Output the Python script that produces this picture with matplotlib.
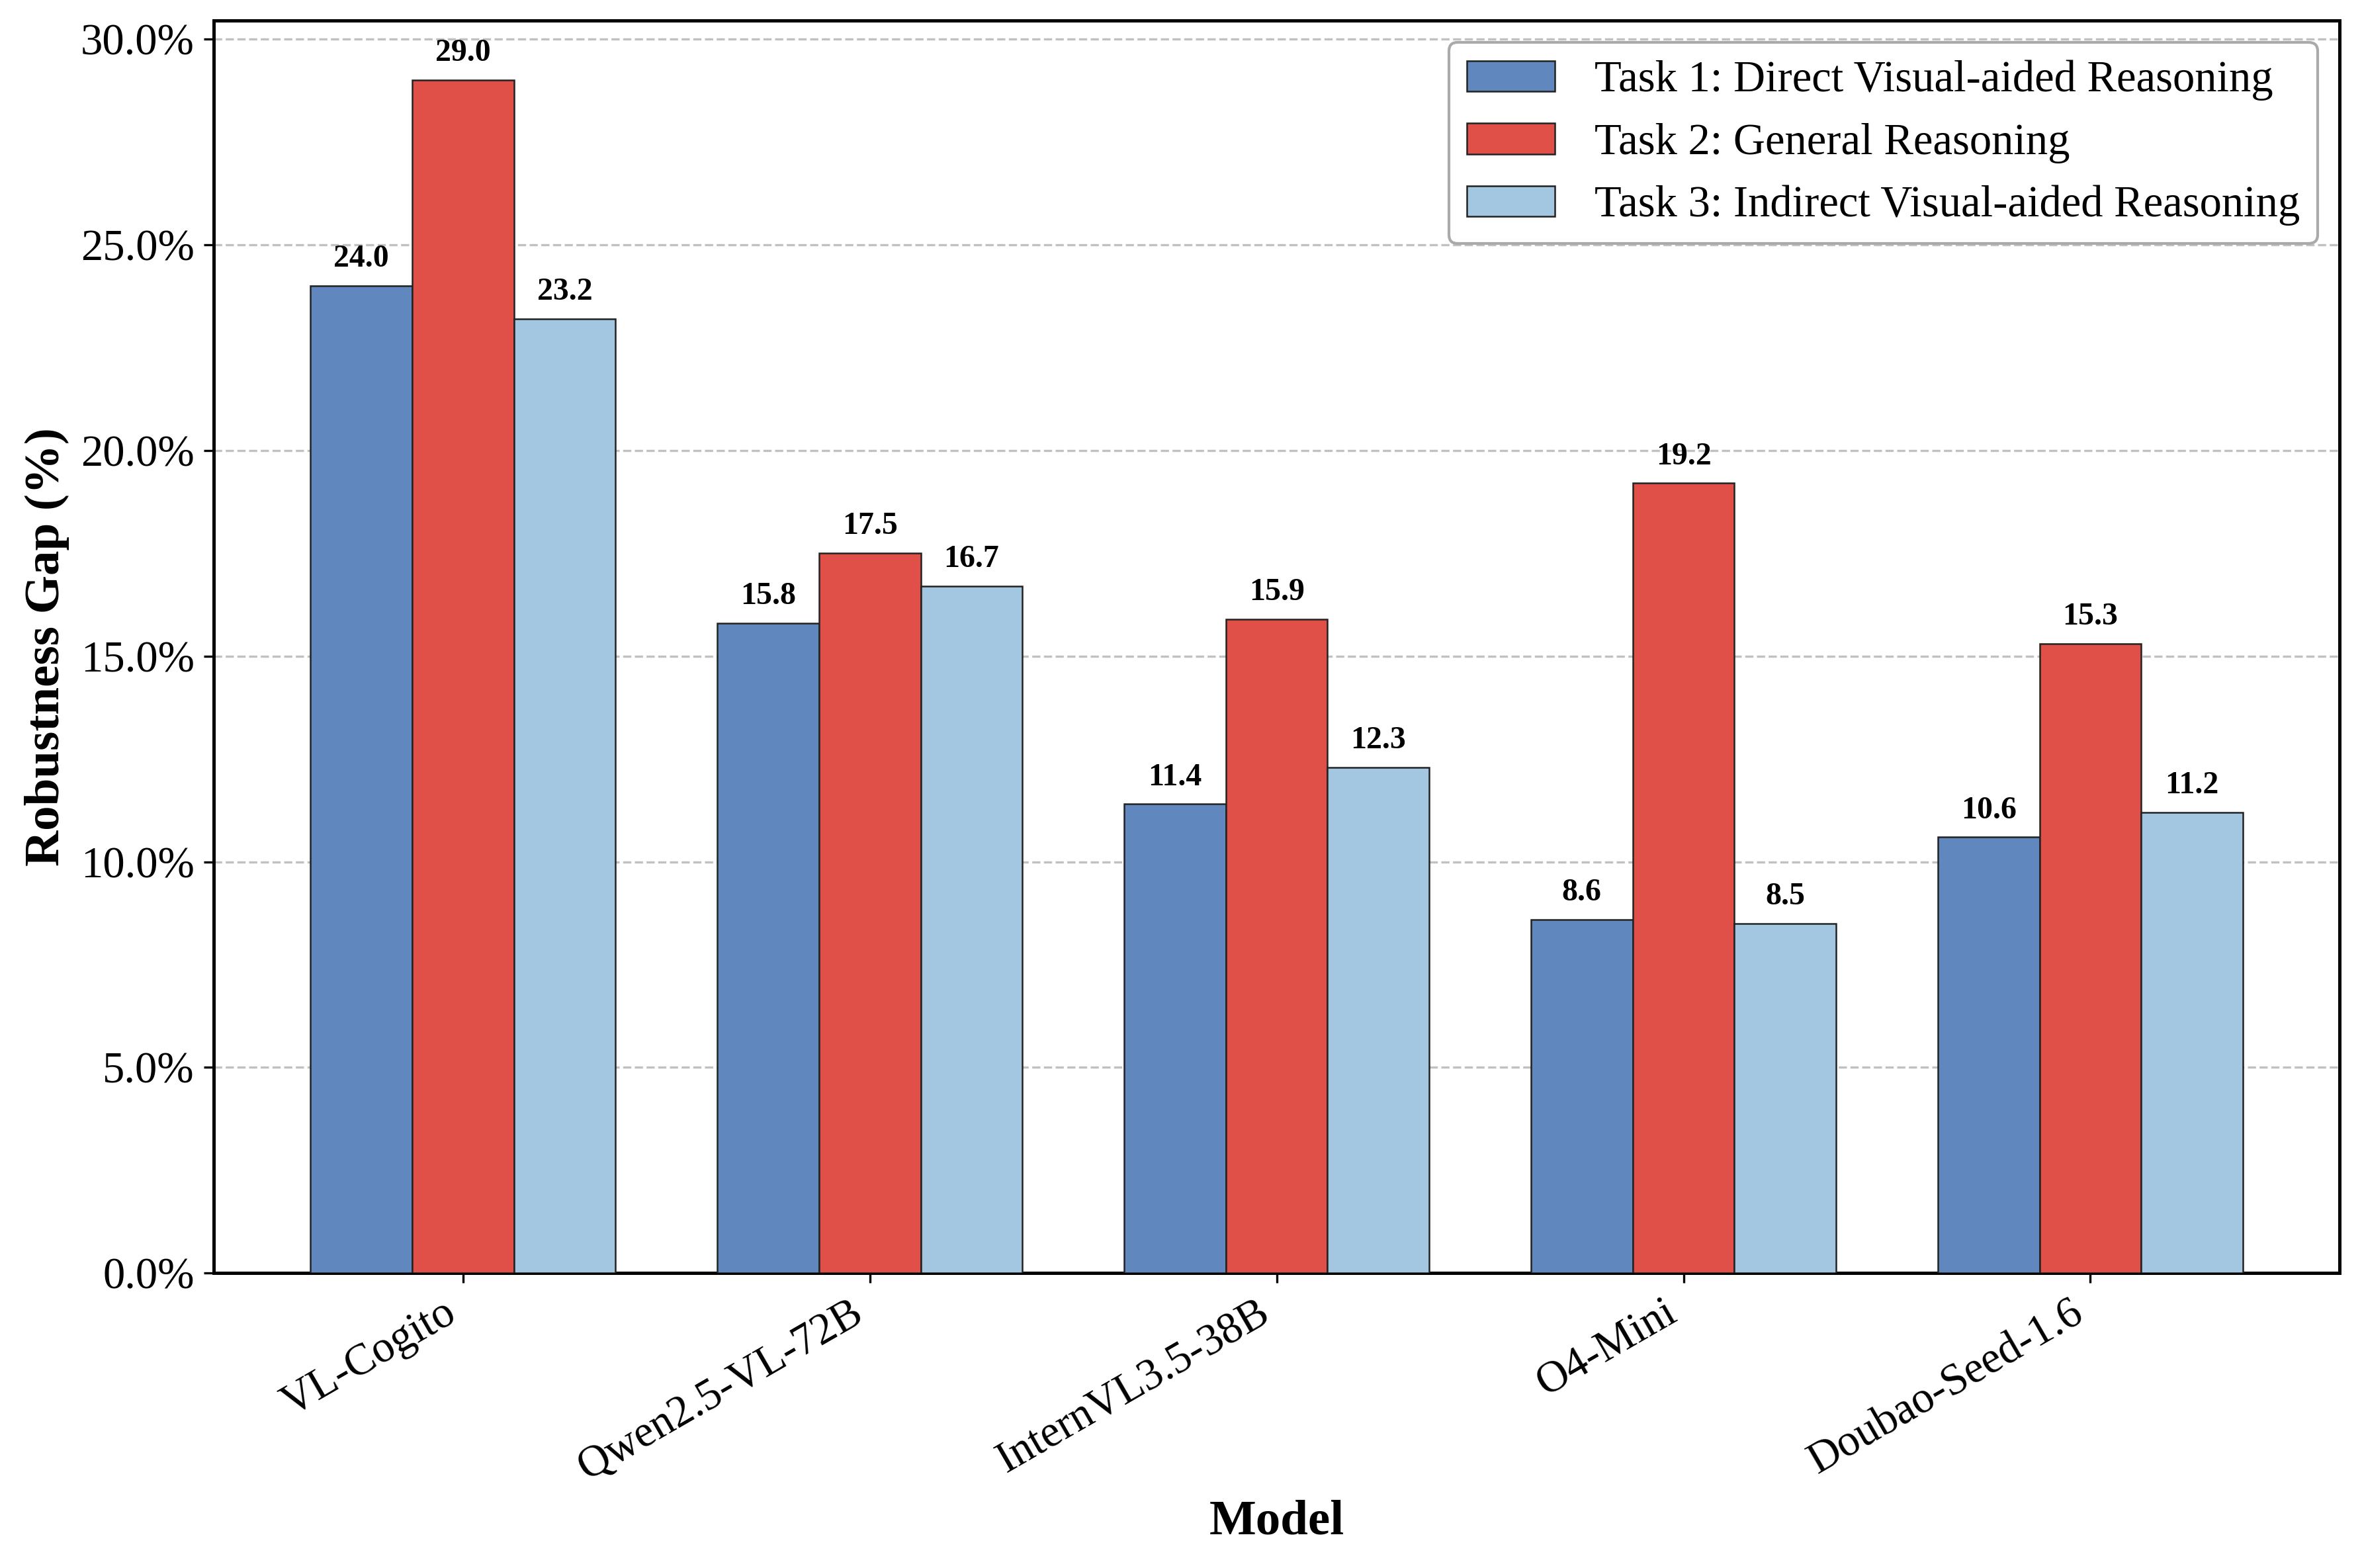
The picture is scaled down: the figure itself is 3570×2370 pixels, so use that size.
import matplotlib
matplotlib.use("Agg")
import matplotlib.pyplot as plt
import numpy as np
from matplotlib.ticker import FuncFormatter

plt.rcParams['font.family'] = ['Liberation Serif', 'DejaVu Serif']

models = ["VL-Cogito", "Qwen2.5-VL-72B", "InternVL3.5-38B", "O4-Mini", "Doubao-Seed-1.6"]
task1 = [24.0, 15.8, 11.4, 8.6, 10.6]
task2 = [29.0, 17.5, 15.9, 19.2, 15.3]
task3 = [23.2, 16.7, 12.3, 8.5, 11.2]
series_names = ["Task 1: Direct Visual-aided Reasoning",
                "Task 2: General Reasoning",
                "Task 3: Indirect Visual-aided Reasoning"]
colors = ["#6088BE", "#E04F48", "#A3C7E1"]

fig = plt.figure(figsize=(11.9, 7.9), dpi=300)
ax = fig.add_axes([0.0905, 0.188, 0.9, 0.799])

x = np.arange(len(models))
w = 0.25
for i, (vals, name, c) in enumerate(zip([task1, task2, task3], series_names, colors)):
    bars = ax.bar(x + (i - 1) * w, vals, w, label=name, color=c,
                  edgecolor="#222222", linewidth=0.6, zorder=3)
    for b, v in zip(bars, vals):
        ax.text(b.get_x() + b.get_width() / 2, v + 0.3, f"{v:.1f}",
                ha="center", va="bottom", fontsize=11.5, fontweight="bold", zorder=4)

ax.set_ylim(0, max(task2) * 1.05)
ax.yaxis.set_major_formatter(FuncFormatter(lambda v, p: f"{v:.1f}%"))
ax.set_xticks(x)
ax.set_xticklabels(models, rotation=30, ha="right", fontsize=16)
ax.tick_params(axis="y", labelsize=16)
ax.set_xlabel("Model", fontsize=18, fontweight="bold")
ax.set_ylabel("Robustness Gap (%)", fontsize=18, fontweight="bold")
ax.grid(axis="y", linestyle="--", color="#bbbbbb", linewidth=0.8, alpha=0.9, zorder=0)
ax.set_axisbelow(True)
for s in ax.spines.values():
    s.set_linewidth(1.2)
ax.legend(loc="upper right", fontsize=16, framealpha=1.0, edgecolor="#aaaaaa",
          handletextpad=0.9)

fig.savefig("out.png", dpi=300)
